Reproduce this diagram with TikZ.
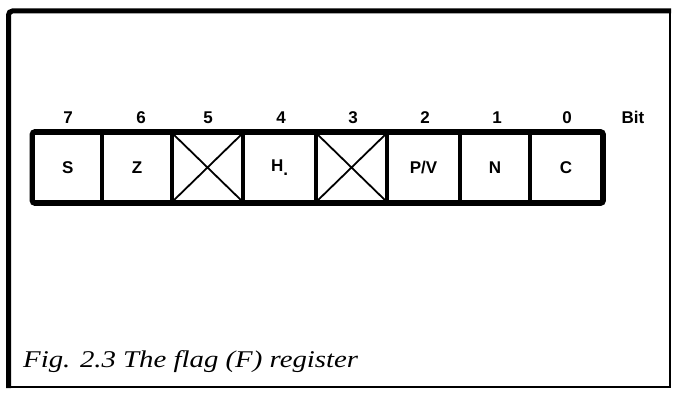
\documentclass[tikz,border=0pt]{standalone}
\usepackage{fontspec}
\setmainfont{Liberation Serif}
\newfontfamily\labfont{Liberation Sans}
\begin{document}
\begin{tikzpicture}[x=1pt,y=-1pt,
  cell/.style={draw, line width=3.2pt, minimum height=69pt, inner sep=0pt,
    font=\labfont\bfseries\fontsize{17}{17}\selectfont},
  bitnum/.style={inner sep=0pt, anchor=base, font=\labfont\bfseries\fontsize{17}{17}\selectfont},
  cross/.style={line width=1.8pt},
  frame/.style={line width=2pt},
  thickframe/.style={line width=5pt, rounded corners=4pt}]
\useasboundingbox (0,0) rectangle (674,393);
\fill[white] (0,0) rectangle (674,393);
% frame
\draw[frame] (8.5,11) rectangle (670,387);
\draw[thickframe] (8.5,388) -- (8.5,11) -- (671,11);
% cells
\node[cell, minimum width=68.5pt] (c7) at (67.75,167.5) {S};
\node[cell, minimum width=70pt] (c6) at (137,167.5) {Z};
\node[cell, minimum width=71pt] (c5) at (207.5,167.5) {};
\node[cell, minimum width=73pt] (c4) at (279.5,167.5) {H\raisebox{-4pt}{.}};
\node[cell, minimum width=71pt] (c3) at (351.5,167.5) {};
\node[cell, minimum width=73pt] (c2) at (423.5,167.5) {P/V};
\node[cell, minimum width=70pt] (c1) at (495,167.5) {N};
\node[cell, minimum width=72pt] (c0) at (566,167.5) {C};
\draw[line width=4.5pt, rounded corners=3pt] (c7.north west) rectangle (c0.south east);
\draw[cross] (c5.north west) -- (c5.south east) (c5.south west) -- (c5.north east);
\draw[cross] (c3.north west) -- (c3.south east) (c3.south west) -- (c3.north east);
% bit numbers
\node[bitnum] (n7) at (68,124) {7};
\node[bitnum] (n6) at (141,124) {6};
\node[bitnum] (n5) at (208,124) {5};
\node[bitnum] (n4) at (281,124) {4};
\node[bitnum] (n3) at (353,124) {3};
\node[bitnum] (n2) at (425,124) {2};
\node[bitnum] (n1) at (497,124) {1};
\node[bitnum] (n0) at (567,124) {0};
\node[bitnum] (bit) at (633,124) {Bit};
% caption
\node[anchor=base west, inner sep=0pt, font=\itshape\fontsize{24}{24}\selectfont, xscale=1.2] (cap) at (23,367) {Fig. 2.3 The flag (F) register};
\end{tikzpicture}
\end{document}
